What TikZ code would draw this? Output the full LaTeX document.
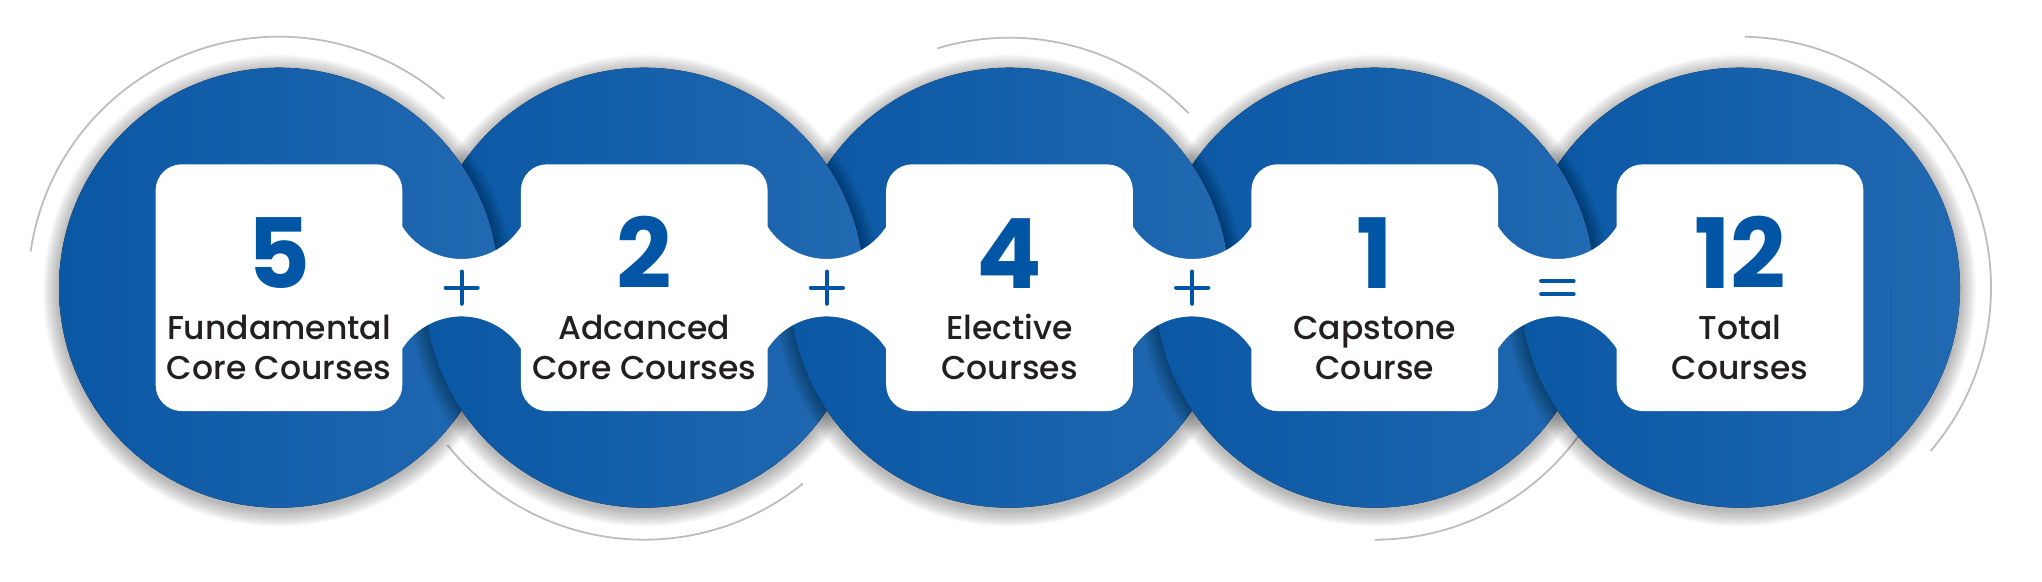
\documentclass[tikz,border=0pt]{standalone}
\usepackage{fontspec}
\setmainfont{Poppins}
\newfontfamily\labelfont{Poppins Medium}
\newfontfamily\numfont{Poppins Bold}
\usetikzlibrary{calc}
\definecolor{chainA}{HTML}{0A57A4}
\definecolor{chainB}{HTML}{2169B1}
\definecolor{numblue}{HTML}{0055A5}
\definecolor{txtdark}{HTML}{231F20}
\definecolor{arcgray}{HTML}{BDBDBD}
\tikzset{
  ringfill/.style={left color=chainA, right color=chainB},
  softshade/.style={fill=black, opacity=0.018},
  numtext/.style={anchor=base, inner sep=0pt, text=numblue, font=\numfont\fontsize{97}{100}\selectfont},
  labtext/.style={anchor=base, inner sep=0pt, text=txtdark, font=\labelfont\fontsize{33}{36}\selectfont},
  deco/.style={draw=arcgray, line width=1.8pt},
  opsign/.style={draw=numblue, line width=4.2pt, line cap=round},
  panel/.style={fill=white, draw=none, rounded corners=26pt, minimum width=246.7pt, minimum height=246.7pt, inner sep=0pt},
  bridge/.style={fill=white},
}
\begin{document}
\begin{tikzpicture}[x=1pt,y=1pt]
\useasboundingbox (0,0) rectangle (2042,581);
\def\Yc{293.3}
\def\R{220}
\foreach \i in {1,...,5}{\coordinate (c\i) at ({279+365.25*(\i-1)},\Yc);}
% decorative gray arcs (behind the chain)
\draw[deco] ($(c1)+(171.7:251)$) arc[start angle=171.7, end angle=48.8, radius=251];
\draw[deco] ($(c2)+(218.6:252)$) arc[start angle=218.6, end angle=309, radius=252];
\draw[deco] ($(c3)+(106.8:250)$) arc[start angle=106.8, end angle=44.3, radius=250];
\draw[deco] ($(c4)+(270:252)$) arc[start angle=270, end angle=324, radius=252];
\draw[deco] ($(c5)+(88.9:251)$) arc[start angle=88.9, end angle=-40.6, radius=251];
% upper half (plus the outer ends): left circle in front
\foreach \i in {5,4,3,2,1}{
  \begin{scope}
    \clip (0,0) -- (150,0) -- (150,\Yc) -- (1890,\Yc) -- (1890,0) -- (2042,0) -- (2042,581) -- (0,581) -- cycle;
    \foreach \k in {1,...,16}{\fill[softshade] ($(c\i)+(0,-3)$) circle ({\R+\k});}
  \end{scope}
  \begin{scope}
    \clip (0,0) -- (151,0) -- (151,\Yc-0.8) -- (1889,\Yc-0.8) -- (1889,0) -- (2042,0) -- (2042,581) -- (0,581) -- cycle;
    \fill[ringfill] (c\i) circle (\R);
  \end{scope}
}
% lower half: right circle in front
\foreach \i in {1,...,5}{
  \begin{scope}
    \clip (150,0) rectangle (1890,\Yc);
    \foreach \k in {1,...,16}{\fill[softshade] ($(c\i)+(0,-3)$) circle ({\R+\k});}
  \end{scope}
  \begin{scope}
    \clip (149,0) rectangle (1891,\Yc+0.8);
    \fill[ringfill] (c\i) circle (\R);
  \end{scope}
}
% white panels
\foreach \i in {1,...,5}{\node[panel] (p\i) at (c\i) {};}
% bridges between panels
\foreach \i in {1,...,4}{
  \pgfmathsetmacro{\xl}{279+365.25*(\i-1)+123.35}
  \pgfmathsetmacro{\xr}{\xl+118.55}
  \fill[bridge] (\xl-3,\Yc+61) -- (\xl,\Yc+61) arc[start angle=212.86, end angle=327.14, radius=70.6] -- (\xr+3,\Yc+61) -- (\xr+3,\Yc-61) -- (\xr,\Yc-61) arc[start angle=32.86, end angle=147.14, radius=70.6] -- (\xl-3,\Yc-61) -- cycle;
}
% operators
\foreach \i/\j in {1/2,2/3,3/4}{
  \coordinate (m\i) at ($(p\i.east)!0.5!(p\j.west)$);
  \draw[opsign] ($(m\i)+(-16,0)$) -- ($(m\i)+(16,0)$);
  \draw[opsign] ($(m\i)+(0,-16)$) -- ($(m\i)+(0,16)$);
}
\coordinate (m4) at ($(p4.east)!0.5!(p5.west)$);
\draw[opsign, line width=4.6pt] ($(m4)+(-16,6.5)$) -- ($(m4)+(16,6.5)$);
\draw[opsign, line width=4.6pt] ($(m4)+(-16,-6.5)$) -- ($(m4)+(16,-6.5)$);
% texts
\node[numtext] (n1) at ($(c1)+(0,-0.6)$) {5};
\node[numtext] (n2) at ($(c2)+(0,-0.6)$) {2};
\node[numtext] (n3) at ($(c3)+(0,-0.6)$) {4};
\node[numtext] (n4) at ($(c4)+(0,-0.6)$) {1};
\node[numtext] (n5) at ($(c5)+(0,-0.6)$) {12};
\node[labtext] (a1) at ($(c1)+(0,-52.3)$) {Fundamental};
\node[labtext] (b1) at ($(c1)+(0,-91.8)$) {Core Courses};
\node[labtext] (a2) at ($(c2)+(0,-52.3)$) {Adcanced};
\node[labtext] (b2) at ($(c2)+(0,-91.8)$) {Core Courses};
\node[labtext] (a3) at ($(c3)+(0,-52.3)$) {Elective};
\node[labtext] (b3) at ($(c3)+(0,-91.8)$) {Courses};
\node[labtext] (a4) at ($(c4)+(0,-52.3)$) {Capstone};
\node[labtext] (b4) at ($(c4)+(0,-91.8)$) {Course};
\node[labtext] (a5) at ($(c5)+(0,-52.3)$) {Total};
\node[labtext] (b5) at ($(c5)+(0,-91.8)$) {Courses};
\end{tikzpicture}
\end{document}
